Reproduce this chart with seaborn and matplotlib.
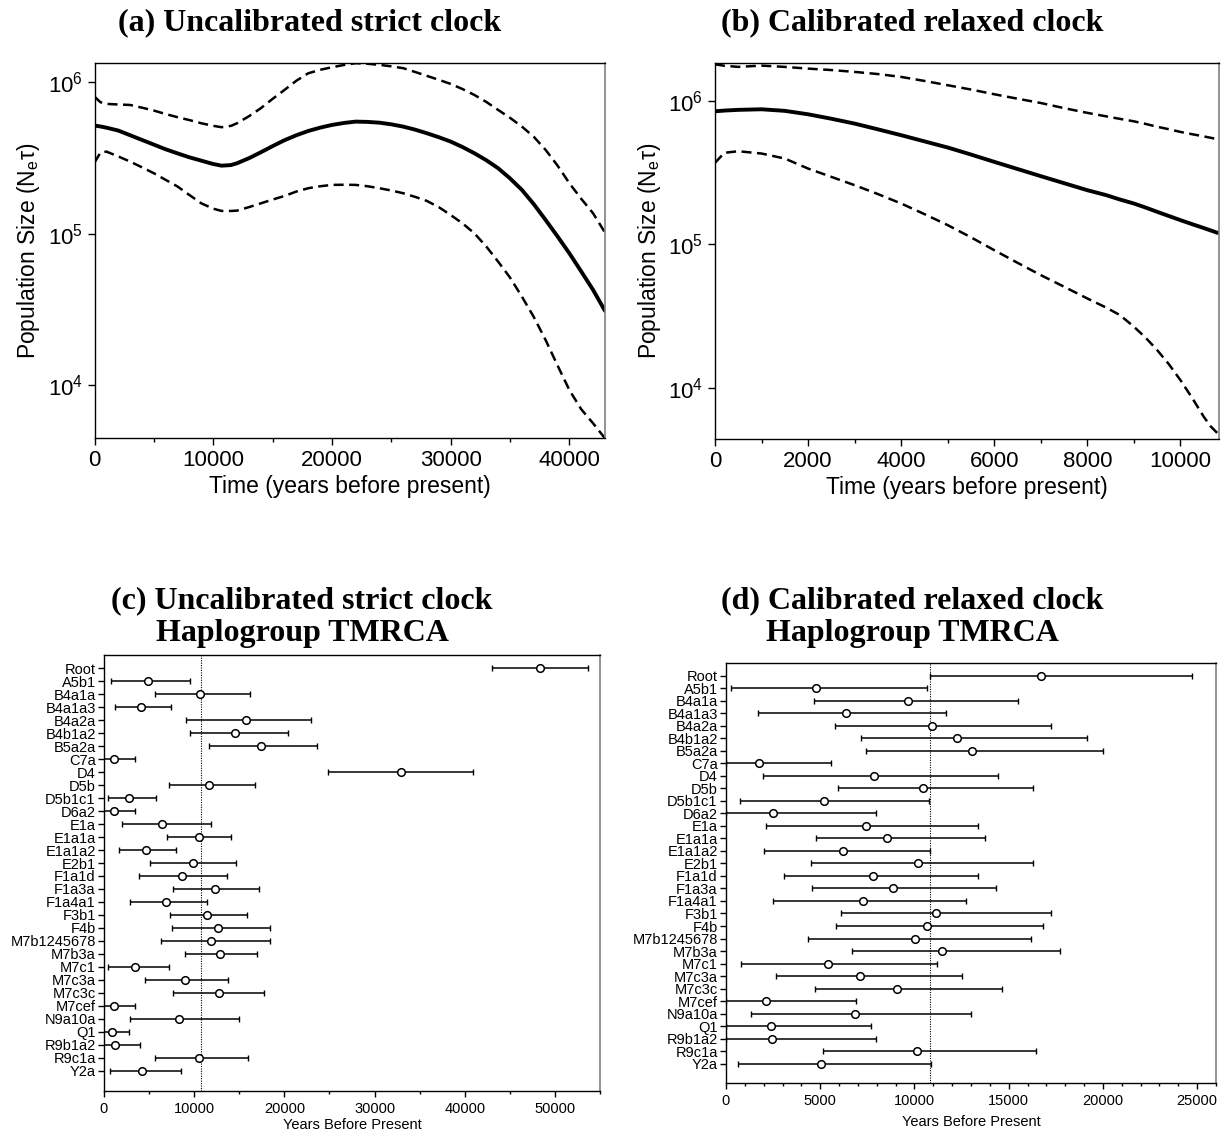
import numpy as np
import pandas as pd
import matplotlib
matplotlib.use("Agg")
import matplotlib.pyplot as plt
import seaborn as sns
from matplotlib.ticker import FixedLocator, NullLocator, MultipleLocator

# ---------------- data: panel (a) skyline, uncalibrated strict clock ----------------
a_time = [0, 500, 1000, 2000, 3000, 4000, 5000, 6000, 7000, 8000, 9000, 10000, 10700, 11500,
          12000, 13000, 14000, 15000, 16000, 17000, 18000, 19000, 20000, 21000, 22000, 23000,
          24000, 25000, 26000, 27000, 28000, 29000, 30000, 31000, 32000, 33000, 34000, 35000,
          36000, 37000, 38000, 39000, 40000, 41000, 42000, 43000]
a_med_log = [5.714, 5.708, 5.700, 5.681, 5.650, 5.619, 5.588, 5.557, 5.530, 5.504, 5.482, 5.460,
             5.449, 5.453, 5.465, 5.498, 5.537, 5.578, 5.617, 5.650, 5.678, 5.700, 5.718, 5.731,
             5.740, 5.738, 5.733, 5.722, 5.707, 5.687, 5.663, 5.637, 5.608, 5.572, 5.531, 5.485,
             5.432, 5.365, 5.289, 5.195, 5.090, 4.982, 4.870, 4.750, 4.628, 4.490]
a_up_log = [5.905, 5.868, 5.857, 5.853, 5.850, 5.832, 5.813, 5.790, 5.769, 5.750, 5.729, 5.712,
            5.703, 5.712, 5.729, 5.775, 5.828, 5.890, 5.949, 6.010, 6.059, 6.082, 6.099, 6.114,
            6.126, 6.122, 6.115, 6.105, 6.093, 6.068, 6.042, 6.016, 5.989, 5.955, 5.916, 5.870,
            5.817, 5.765, 5.707, 5.640, 5.553, 5.450, 5.333, 5.230, 5.134, 5.007]
a_lo_log = [5.470, 5.535, 5.542, 5.510, 5.476, 5.438, 5.399, 5.355, 5.311, 5.255, 5.200, 5.165,
            5.150, 5.150, 5.152, 5.175, 5.200, 5.225, 5.249, 5.278, 5.300, 5.313, 5.322, 5.323,
            5.322, 5.313, 5.300, 5.285, 5.267, 5.243, 5.216, 5.175, 5.123, 5.068, 5.002, 4.915,
            4.815, 4.710, 4.584, 4.450, 4.297, 4.130, 3.967, 3.840, 3.747, 3.648]

# ---------------- data: panel (b) skyline, calibrated relaxed clock ----------------
b_time = [0, 200, 500, 1000, 1500, 2000, 2500, 3000, 3500, 4000, 4500, 5000, 5500, 6000, 6500,
          7000, 7500, 8000, 8400, 8700, 9000, 9250, 9500, 9750, 10000, 10250, 10500, 10650, 10800]
b_med_log = [5.930, 5.935, 5.940, 5.944, 5.933, 5.909, 5.878, 5.844, 5.804, 5.763, 5.720, 5.677,
             5.628, 5.577, 5.527, 5.477, 5.428, 5.379, 5.345, 5.314, 5.286, 5.258, 5.228, 5.199,
             5.170, 5.142, 5.115, 5.098, 5.081]
b_up_log = [6.258, 6.248, 6.240, 6.249, 6.240, 6.228, 6.218, 6.205, 6.190, 6.170, 6.142, 6.112,
            6.082, 6.049, 6.018, 5.988, 5.952, 5.919, 5.895, 5.877, 5.860, 5.842, 5.822, 5.805,
            5.786, 5.770, 5.755, 5.745, 5.735]
b_lo_log = [5.570, 5.640, 5.651, 5.635, 5.600, 5.530, 5.472, 5.414, 5.352, 5.286, 5.212, 5.135,
            5.050, 4.960, 4.872, 4.786, 4.705, 4.623, 4.560, 4.507, 4.426, 4.350, 4.263, 4.165,
            4.053, 3.930, 3.798, 3.730, 3.681]

# ---------------- data: haplogroup TMRCA ----------------
haplogroups = ["Root", "A5b1", "B4a1a", "B4a1a3", "B4a2a", "B4b1a2", "B5a2a", "C7a", "D4", "D5b",
               "D5b1c1", "D6a2", "E1a", "E1a1a", "E1a1a2", "E2b1", "F1a1d", "F1a3a", "F1a4a1",
               "F3b1", "F4b", "M7b1245678", "M7b3a", "M7c1", "M7c3a", "M7c3c", "M7cef", "N9a10a",
               "Q1", "R9b1a2", "R9c1a", "Y2a"]

c_mid = [48320, 4890, 10670, 4080, 15770, 14530, 17380, 1150, 32940, 11640, 2800, 1105, 6460,
         10500, 4630, 9820, 8670, 12280, 6840, 11470, 12660, 11860, 12880, 3440, 8970, 12750,
         1150, 8370, 850, 1275, 10580, 4160]
c_lo = [43010, 765, 5610, 1275, 9050, 9560, 11600, -1185, 24820, 7180, 470, -1190, 2000, 7010,
        1615, 5060, 3870, 7690, 2890, 7310, 7520, 6290, 9010, 470, 4500, 7690, -1185, 2930, -1100,
        -1400, 5610, 720]
c_hi = [53630, 9520, 16150, 7395, 22910, 20400, 23590, 3485, 40970, 16790, 5740, 3400, 11900,
        14070, 7990, 14660, 13600, 17170, 11390, 15890, 18360, 18360, 17000, 7180, 13770, 17720,
        3485, 15000, 2800, 3950, 15940, 8500]

d_mid = [16710, 4800, 9650, 6350, 10940, 12240, 13040, 1760, 7860, 10430, 5220, 2470, 7430, 8550,
         6220, 10180, 7780, 8860, 7290, 11120, 10650, 10020, 11470, 5430, 7120, 9060, 2140, 6840,
         2410, 2450, 10160, 5040]
d_lo = [10800, 290, 4670, 1710, 5780, 7140, 7450, 0, 1960, 5920, 730, 0, 2140, 4800, 2000, 4530,
        3060, 4550, 2510, 6080, 5820, 4330, 6670, 820, 2650, 4730, 0, 1350, 0, 0, 5160, 630]
d_hi = [24730, 10690, 15470, 11690, 17270, 19160, 20020, 5570, 14410, 16270, 10780, 7960, 13370,
        13760, 10820, 16310, 13350, 14350, 12760, 17270, 16840, 16160, 17730, 11180, 12510, 14630,
        6880, 13000, 7710, 7940, 16430, 10880]

calib_line = 10800

titles = ["(a) Uncalibrated strict clock", "(b) Calibrated relaxed clock",
          "(c) Uncalibrated strict clock\nHaplogroup TMRCA",
          "(d) Calibrated relaxed clock\nHaplogroup TMRCA"]

# ---------------- style ----------------
sns.set_theme(style="ticks")
plt.rcParams["font.family"] = ["Liberation Sans", "DejaVu Sans"]
plt.rcParams["mathtext.fontset"] = "custom"
plt.rcParams["mathtext.rm"] = "Liberation Sans"
plt.rcParams["mathtext.it"] = "Liberation Sans:italic"
plt.rcParams["mathtext.default"] = "regular"
for k in ["text.color", "axes.labelcolor", "xtick.color", "ytick.color", "axes.edgecolor"]:
    plt.rcParams[k] = "black"

W, H = 1221, 1133
fig = plt.figure(figsize=(W / 100, H / 100), dpi=100)
fig.patch.set_facecolor("white")


def add_ax(l, t, r, b):
    return fig.add_axes([l / W, 1 - b / H, (r - l) / W, (b - t) / H])


def style_box(ax):
    for s in ["left", "bottom", "top"]:
        ax.spines[s].set_color("black")
        ax.spines[s].set_linewidth(1.0)
    ax.spines["right"].set_color("#808080")
    ax.spines["right"].set_linewidth(1.2)
    ax.set_facecolor("white")


def skyline(ax, t, med, lo, up, xmax, ylim, xmajor, xminor):
    df = pd.DataFrame({"t": t, "med": 10 ** np.array(med), "lo": 10 ** np.array(lo),
                       "up": 10 ** np.array(up)})
    sns.lineplot(data=df, x="t", y="med", ax=ax, color="black", linewidth=2.8)
    sns.lineplot(data=df, x="t", y="up", ax=ax, color="black", linewidth=1.8)
    sns.lineplot(data=df, x="t", y="lo", ax=ax, color="black", linewidth=1.8)
    ax.lines[1].set_dashes((4, 2.2))
    ax.lines[2].set_dashes((4, 2.2))
    for ln in ax.lines:
        ln.set_solid_joinstyle("round")
        ln.set_dash_joinstyle("round")
    ax.set_yscale("log")
    ax.set_xlim(0, xmax)
    ax.set_ylim(*ylim)
    ax.yaxis.set_major_locator(FixedLocator([1e4, 1e5, 1e6]))
    ax.yaxis.set_minor_locator(NullLocator())
    ax.xaxis.set_major_locator(MultipleLocator(xmajor))
    ax.xaxis.set_minor_locator(MultipleLocator(xminor))
    ax.tick_params(axis="both", which="major", labelsize=16, length=5, width=1, direction="out",
                   color="black")
    ax.tick_params(axis="x", which="minor", length=3, width=1, direction="out")
    ax.set_xlabel("Time (years before present)", fontsize=16.5, labelpad=3)
    ax.set_ylabel("Population Size (N$_{e}$\u03c4)", fontsize=16.5, labelpad=4)
    style_box(ax)


ax_a = add_ax(94.5, 63, 605, 438)
skyline(ax_a, a_time, a_med_log, a_lo_log, a_up_log, 43000, (4.47e3, 1.34e6), 10000, 5000)
ax_b = add_ax(715, 63, 1219, 439)
skyline(ax_b, b_time, b_med_log, b_lo_log, b_up_log, 10830, (4.38e3, 1.85e6), 2000, 1000)


def tmrca(ax, mid, lo, hi, xmax, ylim, xmajor, xminor, lpad):
    n = len(haplogroups)
    ypos = np.arange(n)
    df = pd.DataFrame({"hap": haplogroups, "mid": mid, "lo": lo, "hi": hi})
    ax.errorbar(df["mid"], ypos, xerr=[df["mid"] - df["lo"], df["hi"] - df["mid"]], fmt="none",
                ecolor="black", elinewidth=1.1, capsize=2.5, capthick=1.0, zorder=2)
    sns.scatterplot(data=df, x="mid", y="hap", ax=ax, marker="o", s=30, facecolor="white",
                    edgecolor="black", linewidth=1.1, zorder=3)
    ax.axvline(calib_line, color="black", linestyle=(0, (1, 1.2)), linewidth=0.8, zorder=1)
    ax.set_xlim(0, xmax)
    ax.set_ylim(*ylim)
    ax.set_yticks(ypos)
    ax.set_yticklabels(haplogroups)
    ax.xaxis.set_major_locator(MultipleLocator(xmajor))
    ax.xaxis.set_minor_locator(MultipleLocator(xminor))
    ax.tick_params(axis="both", which="major", labelsize=10.5, length=4, width=1, direction="out",
                   pad=2)
    ax.tick_params(axis="x", which="minor", length=2.5, width=1, direction="out")
    ax.tick_params(axis="x", which="major", pad=4)
    ax.set_xlabel("Years Before Present", fontsize=10.5, labelpad=lpad)
    ax.set_ylabel("")
    style_box(ax)


ax_c = add_ax(104, 655, 600, 1091)
tmrca(ax_c, c_mid, c_lo, c_hi, 55000, (32.56, -1.02), 10000, 5000, 1.5)
ax_d = add_ax(726, 663, 1216, 1083)
tmrca(ax_d, d_mid, d_lo, d_hi, 26000, (32.54, -1.01), 5000, 1000, 5)

title_kw = dict(fontsize=23, fontweight="bold", family=["Liberation Serif", "DejaVu Serif"],
                ha="center", va="center")
fig.text(310 / W, 1 - 23 / H, titles[0], **title_kw)
fig.text(912 / W, 1 - 23 / H, titles[1], **title_kw)
fig.text(302 / W, 1 - 617 / H, titles[2], linespacing=1.15, **title_kw)
fig.text(912 / W, 1 - 617 / H, titles[3], linespacing=1.15, **title_kw)

fig.savefig("out.png", dpi=100, facecolor="white")
